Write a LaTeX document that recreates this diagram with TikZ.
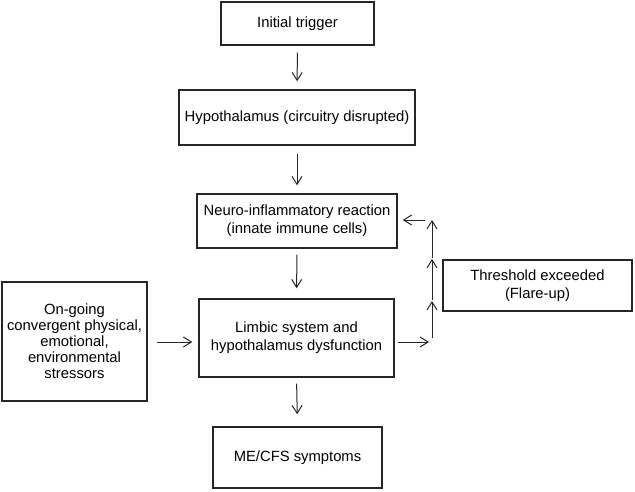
\documentclass[tikz,border=0pt]{standalone}
\usepackage{fontspec}
\setmainfont{Liberation Sans}
\usetikzlibrary{arrows.meta}
\begin{document}
\begin{tikzpicture}[x=1pt,y=-1pt,
  box/.style={draw=black!85, line width=1.4pt, align=center, inner sep=0pt,
    font=\fontsize{14.8}{18.2}\selectfont},
  arr/.style={draw=black!85, line width=1pt, -{Straight Barb[length=8pt,width=10pt]}}]
\useasboundingbox (0,0) rectangle (635,492);
\node[box, minimum width=153pt, minimum height=43pt] (b1) at (297.5,23.5) {Initial trigger};
\node[box, minimum width=236pt, minimum height=55pt] (b2) at (297,117.5) {Hypothalamus (circuitry disrupted)};
\node[box, minimum width=200pt, minimum height=54pt] (b3) at (297,221) {Neuro-inflammatory reaction\\(innate immune cells)};
\node[box, minimum width=195pt, minimum height=78pt] (b4) at (296.5,338) {Limbic system and\\hypothalamus dysfunction};
\node[box, minimum width=169pt, minimum height=61pt] (b5) at (297.5,457.5) {ME/CFS symptoms};
\node[box, minimum width=145pt, minimum height=119pt, font=\fontsize{14.8}{16}\selectfont] (b6) at (74.5,341.5) {On-going\\convergent physical,\\emotional,\\environmental\\stressors};
\node[box, minimum width=189pt, minimum height=51pt] (b7) at (537.5,285.5) {Threshold exceeded\\(Flare-up)};
\coordinate (c1) at (432,342);
\coordinate (m1) at (432,301);
\coordinate (m2) at (432,259);
\coordinate (c2) at (432,220);
\draw[arr, shorten <=7pt, shorten >=8pt] (b1.south) -- (b2.north);
\draw[arr, shorten <=8pt, shorten >=8pt] (b2.south) -- (b3.north);
\draw[arr, shorten <=6pt, shorten >=10pt] (b3.south) -- (b4.north);
\draw[arr, shorten <=6pt, shorten >=12pt] (b4.south) -- (b5.north);
\draw[arr, shorten <=9pt, shorten >=6pt] (b6.east |- c1) -- (b4.west |- c1);
\draw[arr, shorten <=3pt, shorten >=3pt] (b4.east |- c1) -- (c1);
\draw[arr, shorten <=4pt] (c1) -- (m1);
\draw[arr, shorten <=1pt] (m1) -- (m2);
\draw[arr, shorten <=1pt] (m2) -- (c2);
\draw[arr, shorten <=7pt, shorten >=5pt] (c2) -- (b3.east |- c2);
\end{tikzpicture}
\end{document}
